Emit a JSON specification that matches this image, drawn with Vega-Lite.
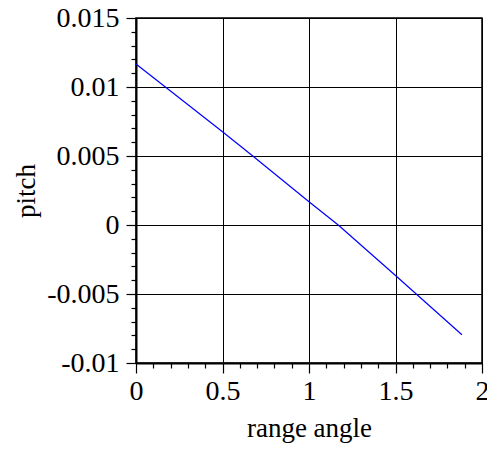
{
  "$schema": "https://vega.github.io/schema/vega-lite/v6.json",
  "width": 346,
  "height": 345,
  "autosize": {"type": "none"},
  "padding": {"left": 136, "top": 18, "right": 5, "bottom": 87},
  "background": "white",
  "config": {
    "view": {"stroke": "black", "strokeWidth": 1.5},
    "axis": {
      "labelFont": "Liberation Serif",
      "titleFont": "Liberation Serif",
      "labelFontSize": 28,
      "titleFontSize": 27,
      "labelColor": "black",
      "titleColor": "black",
      "titleFontWeight": "normal",
      "domainColor": "black",
      "tickColor": "black",
      "gridColor": "black",
      "gridOpacity": 1,
      "gridWidth": 1,
      "domainWidth": 2,
      "tickWidth": 1.2
    }
  },
  "data": {
    "values": [
      {"angle": 0, "pitch": 0.01167},
      {"angle": 0.5, "pitch": 0.00676},
      {"angle": 0.675, "pitch": 0.005},
      {"angle": 1, "pitch": 0.00168},
      {"angle": 1.169, "pitch": 0},
      {"angle": 1.5, "pitch": -0.00366},
      {"angle": 1.884, "pitch": -0.00795}
    ]
  },
  "resolve": {"axis": {"x": "independent", "y": "independent"}},
  "layer": [
    {
      "mark": {"type": "line", "color": "#0000ff", "strokeWidth": 1.2},
      "encoding": {
        "x": {
          "field": "angle",
          "type": "quantitative",
          "scale": {"domain": [0, 2], "nice": false, "zero": false},
          "axis": {
            "orient": "bottom",
            "values": [0, 0.5, 1, 1.5, 2],
            "labelExpr": "'' + datum.value",
            "grid": true,
            "tickSize": 10,
            "labelPadding": 4,
            "labelFlush": false,
            "title": "range angle",
            "titlePadding": 10
          }
        },
        "y": {
          "field": "pitch",
          "type": "quantitative",
          "scale": {"domain": [-0.01, 0.015], "nice": false, "zero": false},
          "axis": {
            "orient": "left",
            "values": [-0.01, -0.005, 0, 0.005, 0.01, 0.015],
            "labelExpr": "'' + datum.value",
            "grid": true,
            "tickSize": 10,
            "labelPadding": 7,
            "labelFlush": false,
            "title": "pitch",
            "titlePadding": 6
          }
        }
      }
    },
    {
      "mark": {"type": "line", "opacity": 0},
      "encoding": {
        "x": {
          "field": "angle",
          "type": "quantitative",
          "scale": {"domain": [0, 2], "nice": false, "zero": false},
          "axis": {
            "orient": "bottom",
            "values": [0.1, 0.2, 0.3, 0.4, 0.6, 0.7, 0.8, 0.9, 1.1, 1.2, 1.3, 1.4, 1.6, 1.7, 1.8, 1.9],
            "labels": false,
            "grid": false,
            "domain": false,
            "tickSize": 5,
            "title": null
          }
        },
        "y": {
          "field": "pitch",
          "type": "quantitative",
          "scale": {"domain": [-0.01, 0.015], "nice": false, "zero": false},
          "axis": {
            "orient": "left",
            "values": [-0.009, -0.008, -0.007, -0.006, -0.004, -0.003, -0.002, -0.001, 0.001, 0.002, 0.003, 0.004, 0.006, 0.007, 0.008, 0.009, 0.011, 0.012, 0.013, 0.014],
            "labels": false,
            "grid": false,
            "domain": false,
            "tickSize": 5,
            "title": null
          }
        }
      }
    }
  ]
}
